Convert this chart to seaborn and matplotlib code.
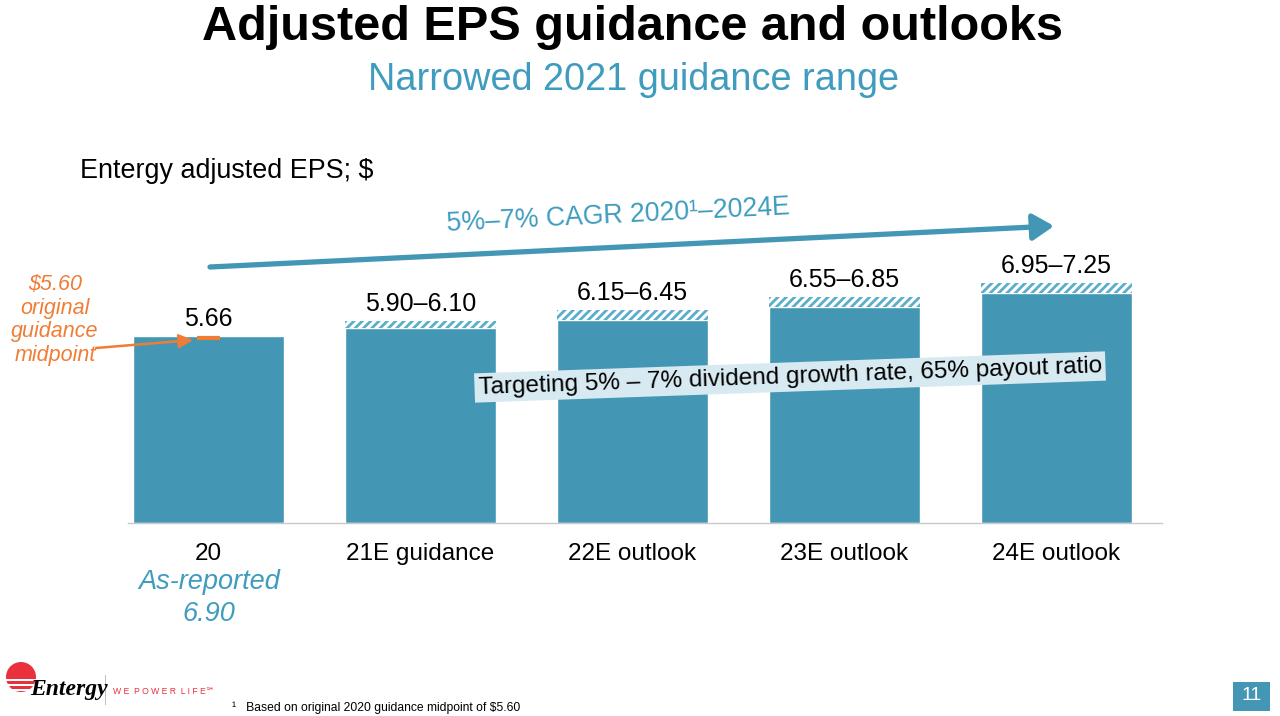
import numpy as np
import pandas as pd
import seaborn as sns
import matplotlib.pyplot as plt
from matplotlib.patches import Circle, Rectangle

# data
categories = ['20', '21E guidance', '22E outlook', '23E outlook', '24E outlook']
eps_low = [5.66, 5.90, 6.15, 6.55, 6.95]
eps_high = [5.66, 6.10, 6.45, 6.85, 7.25]
value_labels = ['5.66', '5.90–6.10', '6.15–6.45', '6.55–6.85', '6.95–7.25']
original_midpoint = 5.60

teal = '#4397b5'
light_teal = '#3f9cbf'
orange = '#f07d36'

sns.set_style('white')
plt.rcParams['font.family'] = ['Liberation Sans', 'DejaVu Sans']
plt.rcParams['hatch.linewidth'] = 2.0

fig = plt.figure(figsize=(12.8, 7.16), dpi=100)
ax = fig.add_axes([0.1, 0.2696, 0.808, 0.3692])

df = pd.DataFrame({'category': categories, 'low': eps_low, 'high': eps_high})
sns.barplot(data=df, x='category', y='low', color=teal, width=0.712,
            saturation=1, ax=ax)
# hatched range on top of the solid bars
rng = df.iloc[1:]
ax.bar(rng.index, rng['high'] - rng['low'], bottom=rng['low'], width=0.712,
       facecolor='white', edgecolor='#5aaecb', hatch='////', linewidth=0)

for i, lab in enumerate(value_labels):
    ax.text(i, eps_high[i] + 0.15, lab, ha='center', va='bottom', fontsize=18,
            color='black')

# original guidance midpoint marker
ax.hlines(original_midpoint, -0.055, 0.055, color=orange, lw=3)

ax.set_xlim(-0.38, 4.5)
ax.set_ylim(0, 8)
ax.set_xlabel('')
ax.set_ylabel('')
ax.set_yticks([])
for s in ['top', 'right', 'left']:
    ax.spines[s].set_visible(False)
ax.spines['bottom'].set_color('#c8c8c8')
ax.spines['bottom'].set_linewidth(1)
ax.tick_params(axis='x', length=0, pad=14.5, labelsize=17.5, labelcolor='black')

H = 716


def fp(x, y):
    return (x, H - y)


# titles
fig.text(633 / 1280, 1 - 28 / H, 'Adjusted EPS guidance and outlooks', ha='center',
         va='center', fontsize=35, fontweight='bold', color='black')
fig.text(634 / 1280, 1 - 80 / H, 'Narrowed 2021 guidance range', ha='center',
         va='center', fontsize=27.3, color=light_teal)
fig.text(80 / 1280, 1 - 171 / H, 'Entergy adjusted EPS; $', ha='left', va='center',
         fontsize=19.4, color='black')

# CAGR arrow
ax.annotate('', xy=fp(1054, 226), xytext=fp(210, 267), xycoords='figure pixels',
            textcoords='figure pixels',
            arrowprops=dict(arrowstyle='-|>,head_length=0.8,head_width=0.5',
                            mutation_scale=16, lw=3.8, color=teal,
                            shrinkA=0, shrinkB=0))
fig.text(618 / 1280, 1 - 216 / H, '5%–7% CAGR 2020¹–2024E', ha='center', va='center',
         rotation=2.8, rotation_mode='anchor', fontsize=19.2, color=light_teal)

# dividend banner
fig.text(790 / 1280, 1 - 377 / H,
         'Targeting 5% – 7% dividend growth rate, 65% payout ratio',
         ha='center', va='center', rotation=2.0, rotation_mode='anchor',
         fontsize=17.5, color='black',
         bbox=dict(boxstyle='square,pad=0.15', facecolor='#d8eaf1', edgecolor='none'))

# original guidance note
fig.text(55 / 1280, 1 - 320 / H, '$5.60\noriginal\nguidance\nmidpoint', ha='center',
         va='center', fontsize=15.5, style='italic', color=orange, linespacing=1.15)
ax.annotate('', xy=fp(193, 340), xytext=fp(96, 348), xycoords='figure pixels',
            textcoords='figure pixels',
            arrowprops=dict(arrowstyle='-|>,head_length=0.6,head_width=0.3',
                            mutation_scale=14, lw=1.8, color=orange,
                            shrinkA=0, shrinkB=0))

fig.text(209 / 1280, 1 - 598 / H, 'As-reported\n6.90', ha='center', va='center',
         fontsize=19.5, style='italic', color=light_teal, linespacing=1.3)

# footer: logo, footnote, page number
logo = Circle(fp(21, 677), 15, transform=None, facecolor='#e8313d',
              edgecolor='none')
fig.add_artist(logo)
for yy in [679, 684, 689]:
    fig.add_artist(Rectangle(fp(4, yy + 1.5), 36, 2, transform=None,
                             facecolor='white', edgecolor='none'))
fig.text(30 / 1280, 1 - 690 / H, 'Entergy', ha='left', va='center', fontsize=17,
         style='italic', family=['Liberation Serif', 'DejaVu Serif'], color='black',
         fontweight='bold')
fig.add_artist(Rectangle(fp(105, 705), 1, 30, transform=None,
                         facecolor='#c0c0c0', edgecolor='none'))
fig.text(113 / 1280, 1 - 691 / H, 'W E  P O W E R  L I F E℠', ha='left',
         va='center', fontsize=6.2, color='#e8313d')
fig.text(232 / 1280, 1 - 708 / H, '¹   Based on original 2020 guidance midpoint of $5.60',
         ha='left', va='center', fontsize=8.7, color='black')
fig.add_artist(Rectangle(fp(1233, 711), 37, 29, transform=None,
                         facecolor=teal, edgecolor='none'))
fig.text(1252 / 1280, 1 - 696 / H, '11', ha='center', va='center', fontsize=14,
         color='white')

fig.savefig('out.png', dpi=100)
